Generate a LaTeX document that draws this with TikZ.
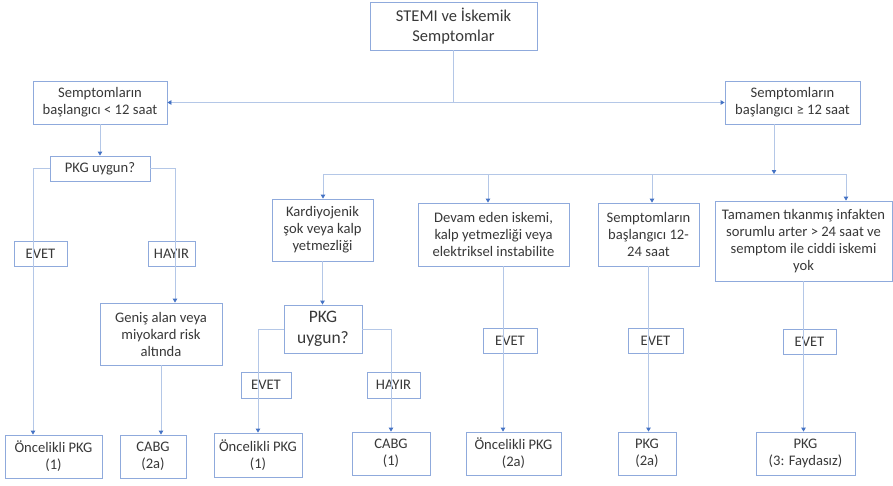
\documentclass[tikz,border=0pt]{standalone}
\usepackage{fontspec}
\setmainfont{Carlito}
\usetikzlibrary{arrows.meta}
\usepackage{xcolor}
\definecolor{frame}{HTML}{8FAADC}
\definecolor{wire}{HTML}{B4C7E7}
\definecolor{tip}{HTML}{4472C4}
\definecolor{ink}{HTML}{383838}

\begin{document}
\begin{tikzpicture}[x=1pt, y=-1pt,
		box/.style={draw=frame, line width=0.8pt, align=center, text=ink,
			inner sep=0pt, font=\fontsize{14.6}{17}\selectfont},
		tag/.style={box, minimum height=25},
		wire/.style={draw=wire, line width=0.8pt},
		link/.style={wire, -{Triangle[length=4pt, width=4.5pt, color=tip]}}
	]
		\useasboundingbox (0,0) rectangle (893,485);
		% kok ve ilk ayrim
		\node [box, minimum width=167, minimum height=48, font=\fontsize{16.5}{20}\selectfont]
			(stemi) at (453.5,26) {STEMI ve İskemik\\Semptomlar};
		\node [box, minimum width=134, minimum height=43] (erken) at (100,102.5)
			{Semptomların\\başlangıcı < 12 saat};
		\node [box, minimum width=135, minimum height=43] (gec) at (792.5,102.5)
			{Semptomların\\başlangıcı ≥ 12 saat};
		\draw [link] (stemi.south) |- (erken.east);
		\draw [link] (stemi.south) |- (gec.west);
		%
		% < 12 saat kolu
		\node [box, minimum width=100, minimum height=25] (uygunA) at (100,168.5) {PKG uygun?};
		\node [tag, minimum width=53] (evetA) at (40.5,253.5) {EVET};
		\node [tag, minimum width=47] (hayirA) at (171.5,253.5) {HAYIR};
		\node [box, minimum width=122, minimum height=62] (genis) at (161,334)
			{Geniş alan veya\\miyokard risk\\altında};
		\node [box, minimum width=97, minimum height=43] (oncA) at (53.5,456.5)
			{Öncelikli PKG\\(1)};
		\node [box, minimum width=66, minimum height=43] (cabgA) at (153,456.5)
			{CABG\\(2a)};
		\coordinate (solA) at (33,0);
		\coordinate (sagA) at (175,0);
		\draw [link] (erken.south) -- (uygunA.north);
		\draw [link] (uygunA.west) -| (solA |- oncA.north);
		\draw [link] (uygunA.east) -| (sagA |- genis.north);
		\draw [link] (genis.south) -- (genis.south |- cabgA.north);
		%
		% >= 12 saat kolu
		\coordinate (hat) at (0,174);
		\coordinate (inis) at (774,0);
		\coordinate (b1) at (323,174);
		\coordinate (b2) at (488,174);
		\coordinate (b3) at (652,174);
		\coordinate (b4) at (846,174);
		\node [box, minimum width=101, minimum height=62] (kardiyo) at (322.5,230)
			{Kardiyojenik\\şok veya kalp\\yetmezliği};
		\node [box, minimum width=151, minimum height=63] (devam) at (493.5,234.5)
			{Devam eden iskemi,\\kalp yetmezliği veya\\elektriksel instabilite};
		\node [box, minimum width=101, minimum height=63] (arada) at (648.5,234.5)
			{Semptomların\\başlangıcı 12-\\24 saat};
		\node [box, minimum width=177, minimum height=80] (tikali) at (803.5,241)
			{Tamamen tıkanmış infakten\\sorumlu arter > 24 saat ve\\semptom ile ciddi iskemi\\yok};
		\draw [link] (inis |- gec.south) -- (inis |- hat);
		\draw [wire] (b1) -- (b4);
		\draw [link] (b1) -- (b1 |- kardiyo.north);
		\draw [link] (b2) -- (b2 |- devam.north);
		\draw [link] (b3) -- (b3 |- arada.north);
		\draw [link] (b4) -- (b4 |- tikali.north);
		%
		\node [box, minimum width=78, minimum height=48, font=\fontsize{17.5}{21}\selectfont]
			(uygunB) at (323,329) {PKG\\uygun?};
		\node [tag, minimum width=50, minimum height=26] (evetB) at (266,385) {EVET};
		\node [tag, minimum width=53, minimum height=26] (hayirB) at (393.5,385) {HAYIR};
		\node [box, minimum width=88, minimum height=44] (oncB) at (258,455)
			{Öncelikli PKG\\(1)};
		\node [box, minimum width=78, minimum height=43] (cabgB) at (391,453.5)
			{CABG\\(1)};
		\draw [link] (kardiyo.south) -- (kardiyo.south |- uygunB.north);
		\draw [link] (uygunB.west) -| (oncB.north);
		\draw [link] (uygunB.east) -| (cabgB.north);
		%
		\coordinate (dik) at (503,0);
		\node [tag, minimum width=54] (evetC) at (510,340.5) {EVET};
		\node [box, minimum width=95, minimum height=43] (oncC) at (513.5,453.5)
			{Öncelikli PKG\\(2a)};
		\draw [link] (dik |- devam.south) -- (dik |- oncC.north);
		%
		\node [tag, minimum width=55] (evetD) at (655.5,340.5) {EVET};
		\node [box, minimum width=58, minimum height=43] (pkgD) at (647,453.5)
			{PKG\\(2a)};
		\draw [link] (arada.south) -- (arada.south |- pkgD.north);
		%
		\node [tag, minimum width=53] (evetE) at (809.5,341.5) {EVET};
		\node [box, minimum width=99, minimum height=43] (pkgE) at (805.5,453.5)
			{PKG\\(3: Faydasız)};
		\draw [link] (tikali.south) -- (tikali.south |- pkgE.north);
\end{tikzpicture}
\end{document}
